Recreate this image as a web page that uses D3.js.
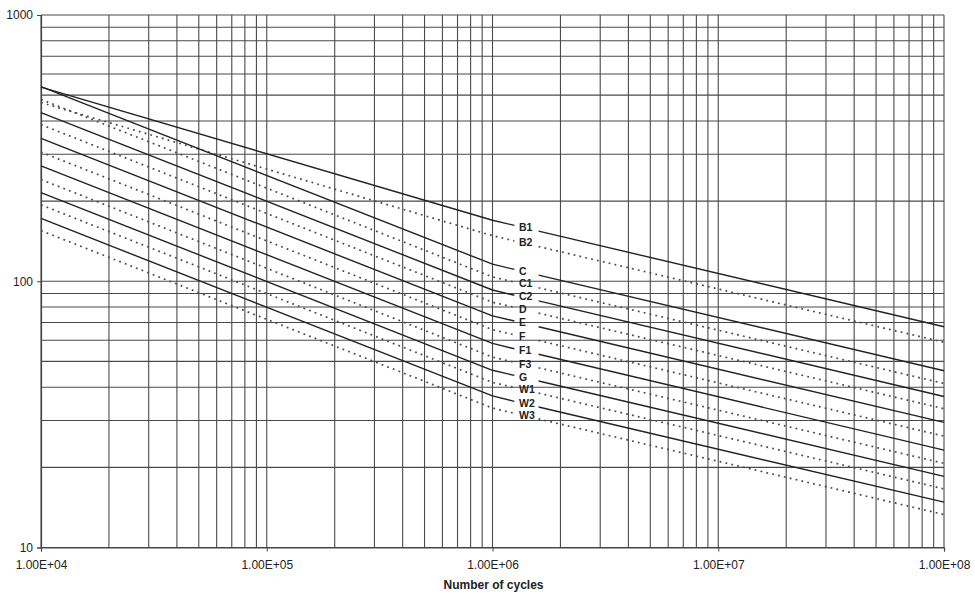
<!DOCTYPE html>
<html>
<head>
<meta charset="utf-8">
<script src="https://cdn.jsdelivr.net/npm/d3@7"></script>
<style>
  html, body { margin: 0; padding: 0; background: #fff; }
  svg { display: block; font-family: "Liberation Sans", Arial, sans-serif; }
</style>
</head>
<body>
<svg id="chart" width="975" height="601"></svg>
<script>
// S-N curve names and styles
const curveNames = ["B1","B2","C","C1","C2","D","E","F","F1","F3","G","W1","W2","W3"];
const curveDotted = [false,true,false,true,false,true,false,true,false,true,false,true,false,true];
// Read points: cycles where each curve is sampled
const nStart = 1e4, nKnee = 1e6, nGapStart = 1.25e6, nGapEnd = 1.6e6, nEnd = 1e8;
// Stress range values at those cycles
const sAt1e4   = [536.0, 469.1, 537.8, 482.0, 430.2, 387.3, 344.1, 305.5, 271.0, 241.0, 215.1, 193.6, 172.1, 154.9];
const sAt1e6   = [169.5, 148.3, 115.9, 103.8,  92.7,  83.4,  74.1,  65.8,  58.4,  51.9,  46.3,  41.7,  37.1,  33.4];
const sAtGapA  = [162.1, 141.8, 110.8,  99.3,  88.6,  79.8,  70.9,  62.9,  55.8,  49.6,  44.3,  39.9,  35.4,  31.9];
const sAtGapB  = [154.3, 135.0, 105.5,  94.5,  84.4,  75.9,  67.5,  59.9,  53.2,  47.3,  42.2,  38.0,  33.7,  30.4];
const sAt1e8   = [ 67.5,  59.0,  46.1,  41.3,  36.9,  33.2,  29.5,  26.2,  23.2,  20.7,  18.5,  16.6,  14.8,  13.3];
// Axis ticks
const xTickValues = [1e4, 1e5, 1e6, 1e7, 1e8];
const xTickLabels = ["1.00E+04","1.00E+05","1.00E+06","1.00E+07","1.00E+08"];
const yTickValues = [10, 100, 1000];
const yTickLabels = ["10","100","1000"];
const xTitle = "Number of cycles";

(function () {
const svg = d3.select("#chart");
const mLeft = 41, mRight = 944, mTop = 15, mBottom = 547.5;
const x = d3.scaleLog().domain([1e4, 1e8]).range([mLeft, mRight]);
const y = d3.scaleLog().domain([10, 1000]).range([mBottom, mTop]);

// Grid lines
const xGrid = [];
for (let d = 1e4; d < 1e8; d *= 10) for (let k = 1; k <= 9; k++) xGrid.push(d * k);
xGrid.push(1e8);
const yGrid = [];
for (let d = 10; d < 1000; d *= 10) for (let k = 1; k <= 9; k++) yGrid.push(d * k);
yGrid.push(1000);

const g = svg.append("g");
g.selectAll("line.vg").data(xGrid).join("line")
  .attr("x1", d => x(d)).attr("x2", d => x(d))
  .attr("y1", mTop).attr("y2", mBottom)
  .attr("stroke", "#4a4a4a").attr("stroke-width", 1.1);
g.selectAll("line.hg").data(yGrid).join("line")
  .attr("x1", mLeft).attr("x2", mRight)
  .attr("y1", d => y(d)).attr("y2", d => y(d))
  .attr("stroke", "#4a4a4a").attr("stroke-width", 1.1);

// Axes
const xAxis = d3.axisBottom(x).tickValues(xTickValues)
  .tickFormat((d, i) => xTickLabels[i]).tickSize(4).tickPadding(9);
const yAxis = d3.axisLeft(y).tickValues(yTickValues)
  .tickFormat((d, i) => yTickLabels[i]).tickSize(4).tickPadding(4);
const gx = svg.append("g").attr("transform", `translate(0,${mBottom})`).call(xAxis);
const gy = svg.append("g").attr("transform", `translate(${mLeft},0)`).call(yAxis);
[gx, gy].forEach(a => {
  a.select(".domain").attr("stroke", "#444").attr("stroke-width", 1.2);
  a.selectAll(".tick line").attr("stroke", "#444");
  a.selectAll(".tick text").attr("fill", "#222").style("font-size", "12px")
   .style("font-family", "'Liberation Sans', Arial, sans-serif");
});

svg.append("text").attr("x", (mLeft + mRight) / 2 + 1).attr("y", 589)
  .attr("text-anchor", "middle").attr("font-weight", "bold")
  .style("font-size", "12px").attr("fill", "#222").text(xTitle);

// Curves
const line = d3.line().x(d => x(d[0])).y(d => y(d[1]));
curveNames.forEach((name, i) => {
  const seg1 = [[nStart, sAt1e4[i]], [nKnee, sAt1e6[i]], [nGapStart, sAtGapA[i]]];
  const seg2 = [[nGapEnd, sAtGapB[i]], [nEnd, sAt1e8[i]]];
  [seg1, seg2].forEach(seg => {
    const p = svg.append("path").attr("d", line(seg)).attr("fill", "none")
      .attr("stroke-linejoin", "round");
    if (curveDotted[i]) {
      p.attr("stroke", "#4a4a4a").attr("stroke-width", 1.7).attr("stroke-dasharray", "1.8,4.2");
    } else {
      p.attr("stroke", "#222").attr("stroke-width", 1.4);
    }
  });
  svg.append("text").attr("x", 519).attr("y", y(sAtGapA[i]) + 1.5).attr("dy", "0.35em")
    .attr("font-weight", "bold").style("font-size", "10.5px").attr("fill", "#222")
    .text(name);
});
})();
</script>
</body>
</html>
